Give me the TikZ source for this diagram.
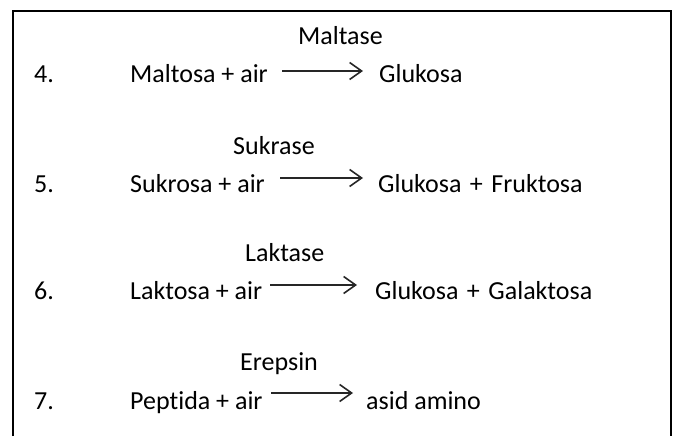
\documentclass[tikz,border=0pt]{standalone}
\usepackage{fontspec}
\setmainfont[Ligatures=NoCommon]{Carlito}
\usetikzlibrary{arrows.meta}
\newcommand{\psp}{\hspace{8.5pt}}
\tikzset{
  txt/.style={anchor=base west,inner sep=0pt,font=\fontsize{26pt}{30pt}\selectfont},
  rxn/.style={line width=1.9pt,color=black!85,-{Straight Barb[length=12pt,width=17pt,line width=1.6pt]}},
  frame/.style={line width=1.5pt}
}
\begin{document}
\begin{tikzpicture}[x=1pt,y=1pt]
\useasboundingbox (0,0) rectangle (676,436);
\draw[frame] (13,0) -- (13,425) -- (671,425) -- (671,0);
% row 4
\node[txt] (n4) at (34,353) {4.};
\node[txt] (l4) at (130,353) {Maltosa + air};
\node[txt] (e4) at (298,391) {Maltase};
\node[txt] (r4) at (379,353) {Glukosa};
\coordinate (a4s) at (282,365);
\coordinate (a4e) at (363,365);
\draw[rxn] (a4s) -- (a4e);
% row 5
\node[txt] (n5) at (34,243) {5.};
\node[txt] (l5) at (130,243) {Sukrosa + air};
\node[txt] (e5) at (233,281) {Sukrase};
\node[txt] (r5) at (378,243) {Glukosa\psp+\psp Fruktosa};
\coordinate (a5s) at (280,258);
\coordinate (a5e) at (363,258);
\draw[rxn] (a5s) -- (a5e);
% row 6
\node[txt] (n6) at (34,136) {6.};
\node[txt] (l6) at (130,136) {Laktosa + air};
\node[txt] (e6) at (245,174) {Laktase};
\node[txt] (r6) at (375,136) {Glukosa\psp+\psp Galaktosa};
\coordinate (a6s) at (270,151);
\coordinate (a6e) at (357,151);
\draw[rxn] (a6s) -- (a6e);
% row 7
\node[txt] (n7) at (34,27) {7.};
\node[txt] (l7) at (130,27) {Peptida + air};
\node[txt] (e7) at (240,66) {Erepsin};
\node[txt] (r7) at (366,27) {asid amino};
\coordinate (a7s) at (271,43);
\coordinate (a7e) at (353,43);
\draw[rxn] (a7s) -- (a7e);
\end{tikzpicture}
\end{document}
